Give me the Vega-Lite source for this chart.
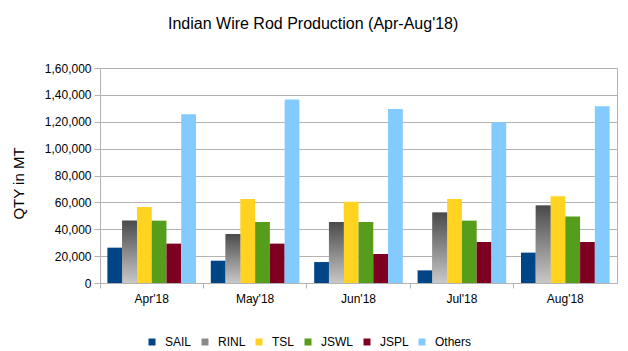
{
  "$schema": "https://vega.github.io/schema/vega-lite/v6.json",
  "width": 517,
  "height": 215,
  "autosize": {"type": "none"},
  "padding": {"left": 100, "top": 68, "right": 11, "bottom": 68},
  "background": "white",
  "title": {
    "text": "Indian Wire Rod Production (Apr-Aug'18)",
    "anchor": "start",
    "frame": "group",
    "dx": 68,
    "offset": 30,
    "font": "Liberation Sans",
    "fontSize": 16,
    "fontWeight": "normal",
    "color": "#000000"
  },
  "config": {
    "font": "Liberation Sans",
    "view": {"stroke": "#b3b3b3"},
    "axis": {
      "labelFont": "Liberation Sans",
      "labelFontSize": 12,
      "labelColor": "#000000",
      "titleFont": "Liberation Sans",
      "titleFontWeight": "normal",
      "titleColor": "#000000",
      "domainColor": "#b3b3b3",
      "tickColor": "#b3b3b3",
      "gridColor": "#b3b3b3"
    }
  },
  "data": {
    "values": [
      {"month": "Apr'18", "company": "SAIL", "qty": 26300},
      {"month": "Apr'18", "company": "RINL", "qty": 46400},
      {"month": "Apr'18", "company": "TSL", "qty": 56600},
      {"month": "Apr'18", "company": "JSWL", "qty": 46400},
      {"month": "Apr'18", "company": "JSPL", "qty": 29300},
      {"month": "Apr'18", "company": "Others", "qty": 125500},
      {"month": "May'18", "company": "SAIL", "qty": 16600},
      {"month": "May'18", "company": "RINL", "qty": 36500},
      {"month": "May'18", "company": "TSL", "qty": 62500},
      {"month": "May'18", "company": "JSWL", "qty": 45400},
      {"month": "May'18", "company": "JSPL", "qty": 29300},
      {"month": "May'18", "company": "Others", "qty": 136500},
      {"month": "Jun'18", "company": "SAIL", "qty": 15600},
      {"month": "Jun'18", "company": "RINL", "qty": 45400},
      {"month": "Jun'18", "company": "TSL", "qty": 60500},
      {"month": "Jun'18", "company": "JSWL", "qty": 45400},
      {"month": "Jun'18", "company": "JSPL", "qty": 21600},
      {"month": "Jun'18", "company": "Others", "qty": 129500},
      {"month": "Jul'18", "company": "SAIL", "qty": 9400},
      {"month": "Jul'18", "company": "RINL", "qty": 52400},
      {"month": "Jul'18", "company": "TSL", "qty": 62500},
      {"month": "Jul'18", "company": "JSWL", "qty": 46400},
      {"month": "Jul'18", "company": "JSPL", "qty": 30500},
      {"month": "Jul'18", "company": "Others", "qty": 119600},
      {"month": "Aug'18", "company": "SAIL", "qty": 22600},
      {"month": "Aug'18", "company": "RINL", "qty": 57600},
      {"month": "Aug'18", "company": "TSL", "qty": 64500},
      {"month": "Aug'18", "company": "JSWL", "qty": 49400},
      {"month": "Aug'18", "company": "JSPL", "qty": 30500},
      {"month": "Aug'18", "company": "Others", "qty": 131500}
    ]
  },
  "encoding": {
    "x": {
      "field": "month",
      "type": "nominal",
      "sort": null,
      "scale": {"paddingInner": 0, "paddingOuter": 0},
      "axis": {
        "title": null,
        "labelAngle": 0,
        "bandPosition": 0,
        "tickSize": 5,
        "labelPadding": 5,
        "grid": false
      }
    },
    "xOffset": {
      "field": "company",
      "type": "nominal",
      "scale": {"domain": ["SAIL", "RINL", "TSL", "JSWL", "JSPL", "Others"], "paddingInner": 0, "paddingOuter": 0.5}
    },
    "y": {
      "field": "qty",
      "type": "quantitative",
      "scale": {"domain": [0, 160000], "nice": false},
      "axis": {
        "title": "QTY in MT",
        "titleFontSize": 15,
        "titlePadding": 18,
        "titleY": 115,
        "values": [0, 20000, 40000, 60000, 80000, 100000, 120000, 140000, 160000],
        "labelExpr": "datum.value >= 100000 ? floor(datum.value / 100000) + ',' + format(datum.value % 100000, '06,') : format(datum.value, ',')",
        "tickSize": 6,
        "labelPadding": 3,
        "grid": true
      }
    }
  },
  "layer": [
    {
      "mark": {"type": "bar"},
      "encoding": {
        "color": {
          "field": "company",
          "type": "nominal",
          "scale": {
            "domain": ["SAIL", "RINL", "TSL", "JSWL", "JSPL", "Others"],
            "range": ["#004586", "#8a8a8a", "#ffd320", "#579d1c", "#7e0021", "#83caff"]
          },
          "legend": {
            "title": null,
            "orient": "none",
            "direction": "horizontal",
            "legendX": 46,
            "legendY": 268,
            "symbolType": "square",
            "symbolSize": 49,
            "symbolStrokeWidth": 0,
            "labelFont": "Liberation Sans",
            "labelFontSize": 12,
            "labelColor": "#000000",
            "labelOffset": 7,
            "columnPadding": 7
          }
        }
      }
    },
    {
      "transform": [{"filter": "datum.company === 'RINL'"}],
      "mark": {
        "type": "bar",
        "color": {
          "gradient": "linear",
          "x1": 0, "y1": 0, "x2": 0, "y2": 1,
          "stops": [
            {"offset": 0, "color": "#4a4a4a"},
            {"offset": 1, "color": "#c8c8c8"}
          ]
        }
      }
    }
  ]
}
